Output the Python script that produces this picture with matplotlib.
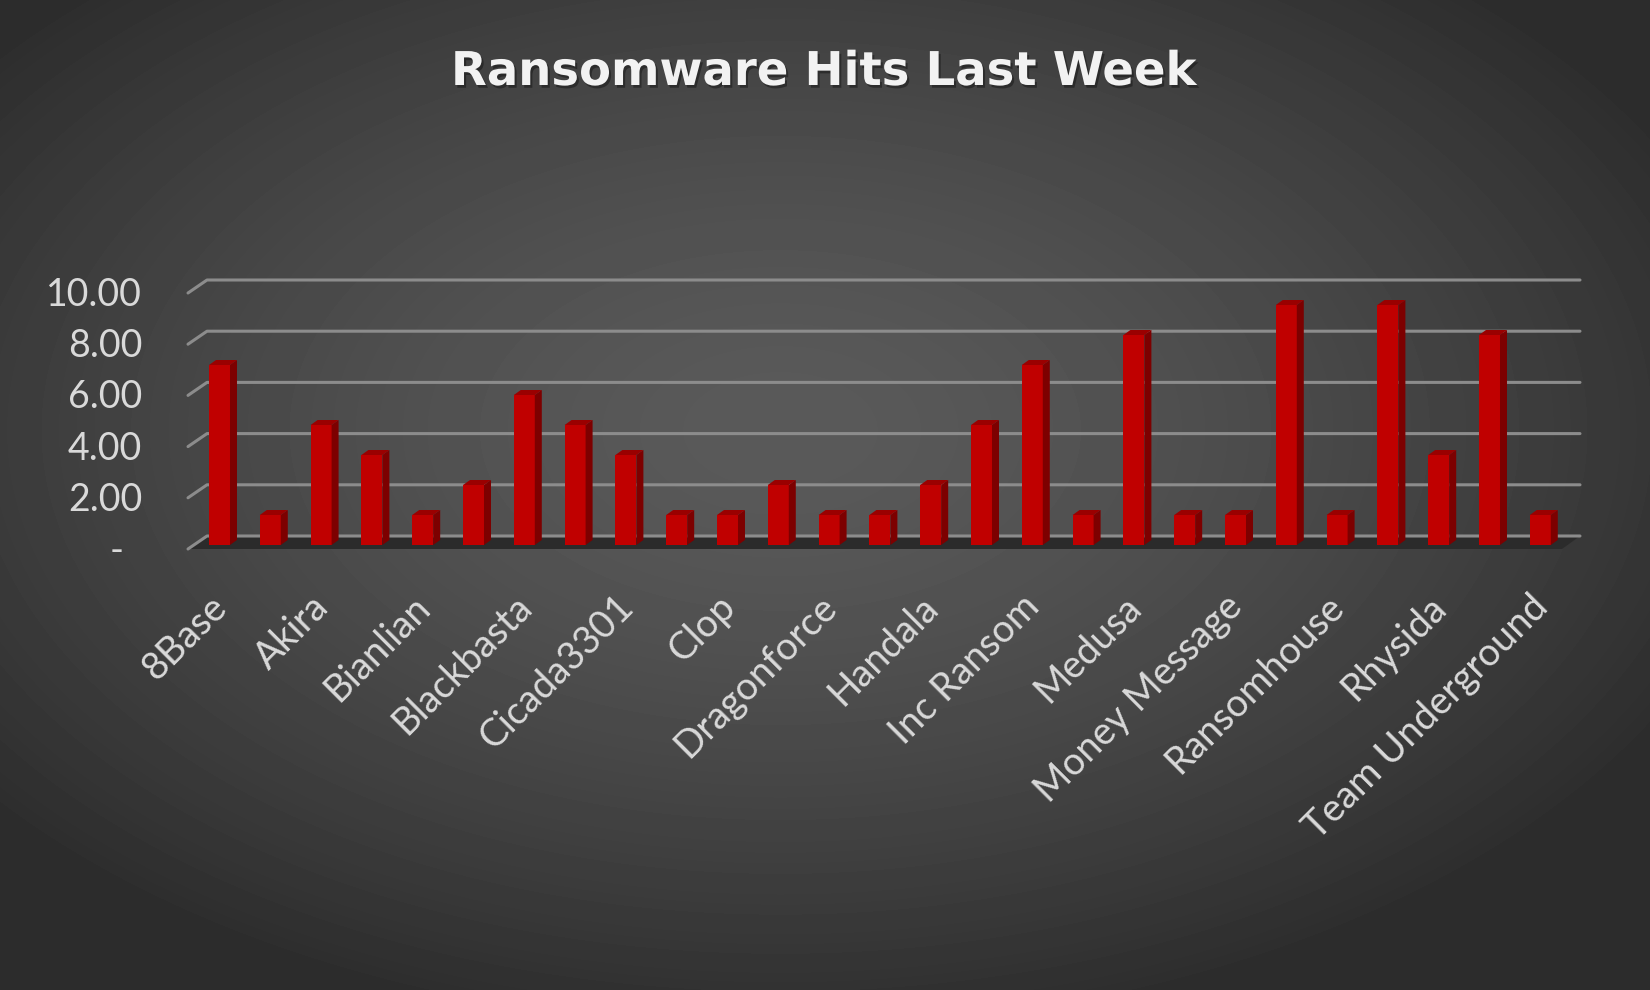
import numpy as np
import matplotlib
matplotlib.use("Agg")
import matplotlib.pyplot as plt
from matplotlib.patches import Polygon
import matplotlib.patheffects as pe

# -------------------------
# Data (hits per group, every other category is labelled)
# -------------------------
hits = [6, 1, 4, 3, 1, 2, 5, 4, 3, 1, 1, 2, 1, 1, 2, 4, 6, 1, 7, 1, 1, 8, 1, 8, 3, 7, 1]
labels = ["8Base", "Akira", "Bianlian", "Blackbasta", "Cicada3301", "Clop",
          "Dragonforce", "Handala", "Inc Ransom", "Medusa", "Money Message",
          "Ransomhouse", "Rhysida", "Team Underground"]
y_ticks = [0, 2, 4, 6, 8, 10]
y_tick_labels = ["-", "2.00", "4.00", "6.00", "8.00", "10.00"]
title = "Ransomware Hits Last Week"

# -------------------------
# Figure + gradient background
# -------------------------
W, H = 1650, 990
fig = plt.figure(figsize=(16.5, 9.9), dpi=100)

bg = fig.add_axes([0, 0, 1, 1])
bg.axis("off")
yy, xx = np.mgrid[0:H, 0:W]
d = np.sqrt(((xx - 780) / (0.62 * W)) ** 2 + ((yy - 430) / (0.62 * H)) ** 2)
shade = (90 - 46 * np.clip(d, 0, 1) ** 1.5) / 255
bg.imshow(shade, cmap="gray", vmin=0, vmax=1, extent=[0, W, H, 0],
          aspect="auto", interpolation="bilinear")
bg.set_xlim(0, W)
bg.set_ylim(H, 0)

TEXT = "#d9d9d9"
GRID = "#8c8c8c"

# -------------------------
# Back wall: gridlines, floor, y labels
# -------------------------
wall_w, wall_h = 1373, 256
wall = fig.add_axes([207 / W, 1 - 536 / H, wall_w / W, wall_h / H])
wall.set_xlim(0, 1)
wall.set_ylim(0, 10)
wall.axis("off")

px_x = 1 / wall_w
px_y = 10 / wall_h

floor = Polygon([(-19 * px_x, -13 * px_y), (0, 0), (1, 0), (1 - 18 * px_x, -13 * px_y)],
                closed=True, facecolor="#2b2b2b", edgecolor="none", clip_on=False, zorder=1)
wall.add_patch(floor)

for v, lab in zip(y_ticks, y_tick_labels):
    wall.plot([-19 * px_x, 0, 1], [v - 13 * px_y, v, v], color=GRID, lw=2.2,
              clip_on=False, solid_capstyle="round", zorder=2)
    xoff = -83 if lab == "-" else -65
    wall.text(xoff * px_x, v - 15 * px_y, lab, ha="right", va="center",
              fontsize=27, color=TEXT, family="Lato")

# -------------------------
# Bars (front face + side + top)
# -------------------------
ax = fig.add_axes([168.7 / W, 1 - 545 / H, 1447.8 / W, 300 / H])
ax.set_xlim(-1, 27.5)
ax.set_ylim(0, 10)
ax.axis("off")
ax.patch.set_visible(False)

x = np.arange(len(hits))
bw = 0.413
dx = 7 / 50.8
dy = 5 / 30

ax.bar(x, hits, width=bw, color="#c00000", zorder=3)
for xi, v in zip(x, hits):
    r = xi + bw / 2
    l = xi - bw / 2
    side = Polygon([(r, 0), (r + dx, dy), (r + dx, v + dy), (r, v)],
                   closed=True, facecolor="#7d0000", edgecolor="none", zorder=3)
    top = Polygon([(l, v), (r, v), (r + dx, v + dy), (l + dx, v + dy)],
                  closed=True, facecolor="#9a0000", edgecolor="none", zorder=3)
    ax.add_patch(side)
    ax.add_patch(top)

# category labels on every other bar
for xi, name in zip(x[::2], labels):
    ax.text(xi - 0.22, -1.45, name, rotation=45, rotation_mode="anchor",
            ha="right", va="top", fontsize=27.5, color=TEXT, family="Lato",
            clip_on=False)

# -------------------------
# Title
# -------------------------
fig.text(823.5 / W, 1 - 85 / H, title, ha="center", va="baseline",
         fontsize=33.5, fontweight="bold", family="DejaVu Sans", color="#f2f2f2",
         path_effects=[pe.withSimplePatchShadow(offset=(1.5, -2), shadow_rgbFace="black", alpha=0.35)])

fig.savefig("out.png", dpi=100)
